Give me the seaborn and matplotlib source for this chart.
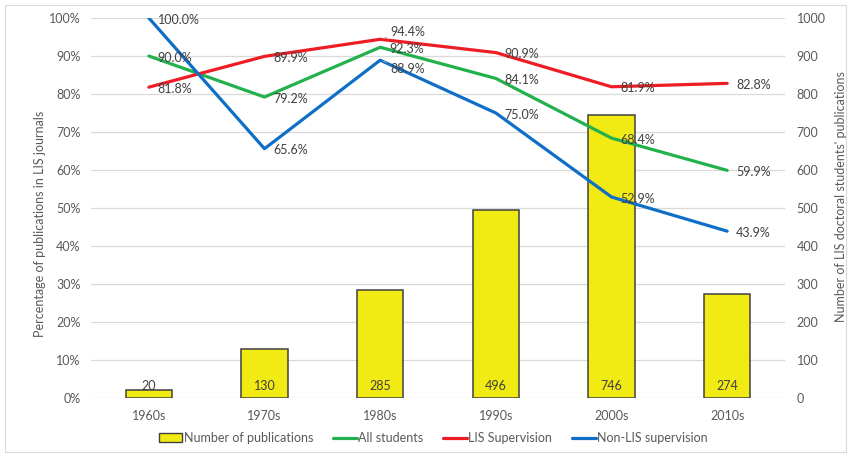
import matplotlib
matplotlib.use('Agg')
import matplotlib.pyplot as plt
import seaborn as sns
import pandas as pd
from matplotlib.patches import Patch, Rectangle
from matplotlib.lines import Line2D

# Chart data
decades = ['1960s', '1970s', '1980s', '1990s', '2000s', '2010s']
publications = [20, 130, 285, 496, 746, 274]
all_students = [90.0, 79.2, 92.3, 84.1, 68.4, 59.9]
lis_supervision = [81.8, 89.9, 94.4, 90.9, 81.9, 82.8]
non_lis_supervision = [100.0, 65.6, 88.9, 75.0, 52.9, 43.9]

series_names = ['All students', 'LIS Supervision', 'Non-LIS supervision']
series_colors = {'All students': '#22B14C',
                 'LIS Supervision': '#EE1C25',
                 'Non-LIS supervision': '#0F6FC6'}
bar_color = '#F2EA13'
text_grey = '#595959'
label_grey = '#404040'
fs = 9.0

sns.set_theme(style='white')
plt.rcParams['font.family'] = ['Lato', 'DejaVu Sans']

W, H = 851, 457
fig = plt.figure(figsize=(W / 100, H / 100), dpi=100)
ax_pct = fig.add_axes([91 / W, 1 - 398 / H, (785 - 91) / W, 380 / H])
ax_bar = ax_pct.twinx()
ax_pct.set_zorder(ax_bar.get_zorder() + 1)
ax_pct.patch.set_visible(False)

# Bars (right axis)
sns.barplot(x=decades, y=publications, ax=ax_bar, color=bar_color,
            saturation=1, edgecolor='#404040', linewidth=1.1, width=0.4)
ax_bar.set_ylim(0, 1000)
ax_bar.set_yticks(range(0, 1001, 100))
ax_bar.yaxis.grid(True, color='#D9D9D9', lw=0.9)
ax_bar.set_axisbelow(True)
for i, v in enumerate(publications):
    ax_bar.annotate(str(v), xy=(i, 0), xytext=(0, 8.8), textcoords='offset points',
                    ha='center', va='center', fontsize=fs, color=label_grey)

# Lines (left axis)
df = pd.DataFrame({
    'decade': decades * 3,
    'pct': all_students + lis_supervision + non_lis_supervision,
    'series': [s for s in series_names for _ in decades],
})
sns.lineplot(data=df, x='decade', y='pct', hue='series', palette=series_colors,
             lw=2.3, ax=ax_pct, sort=False, legend=False)
ax_pct.set_ylim(0, 100)
ax_pct.set_yticks(range(0, 101, 10))
ax_pct.set_yticklabels([f'{t}%' for t in range(0, 101, 10)])
ax_pct.set_xlim(-0.5, 5.5)

special = {('LIS Supervision', 2): (7, 5.5), ('Non-LIS supervision', 2): (7, -6.5)}
for name, vals in zip(series_names, [all_students, lis_supervision, non_lis_supervision]):
    for i, v in enumerate(vals):
        off = special.get((name, i), (6.5, -1.2))
        kw = {}
        if (name, i) in special:
            kw['arrowprops'] = dict(arrowstyle='-', color='#A6A6A6', lw=0.6,
                                    shrinkA=0, shrinkB=2)
        ax_pct.annotate(f'{v:.1f}%', xy=(i, v), xytext=off, textcoords='offset points',
                        ha='left', va='center', fontsize=fs, color=label_grey, **kw)

for a in (ax_pct, ax_bar):
    for sp in a.spines.values():
        sp.set_visible(False)
    a.set_xlabel('')
    a.set_ylabel('')
ax_pct.tick_params(axis='y', length=0, labelsize=fs, labelcolor=text_grey, pad=7.5)
ax_pct.tick_params(axis='x', length=0, labelsize=fs, labelcolor=text_grey, pad=8.5)
ax_bar.tick_params(axis='y', length=0, labelsize=fs, labelcolor=text_grey, pad=8.5)

fig.text(40 / W, 1 - 224 / H, 'Percentage of publications in LIS journals', rotation=90,
         ha='center', va='center', fontsize=fs, color=text_grey)
fig.text(841 / W, 1 - 197 / H, "Number of LIS doctoral students' publications", rotation=90,
         ha='center', va='center', fontsize=fs, color=text_grey)

handles = [Patch(facecolor=bar_color, edgecolor='#404040', lw=1.0)]
handles += [Line2D([0], [0], color=series_colors[s], lw=2.3) for s in series_names]
labels = ['Number of publications'] + series_names
fig.legend(handles, labels, loc='center', bbox_to_anchor=(433 / W, 1 - 438 / H), ncol=4,
           frameon=False, fontsize=fs, labelcolor=text_grey, handlelength=1.9,
           handleheight=0.65, handletextpad=0.1, columnspacing=1.6)

fig.patches.append(Rectangle((5 / W, 5 / H), (W - 10) / W, (H - 10) / H,
                             transform=fig.transFigure, fill=False,
                             edgecolor='#D9D9D9', lw=0.8))

fig.savefig('out.png', dpi=100)
